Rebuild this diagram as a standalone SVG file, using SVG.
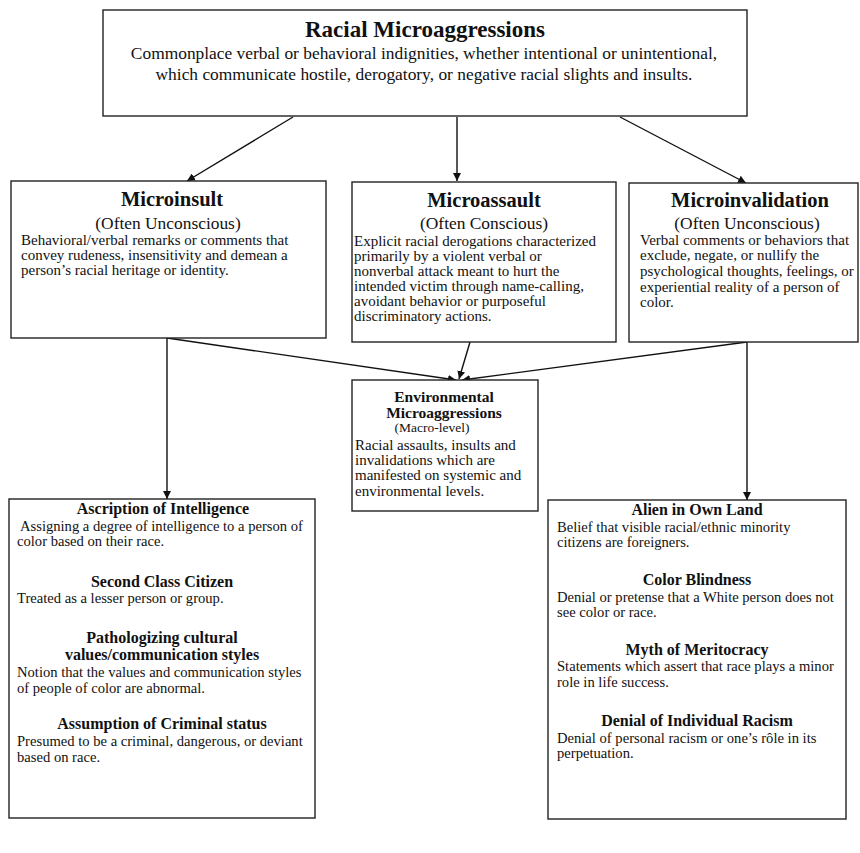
<svg xmlns="http://www.w3.org/2000/svg" width="860" height="853" viewBox="0 0 860 853">
<defs>
<marker id="ah" viewBox="0 0 10 10" refX="10" refY="5" markerWidth="8" markerHeight="8" markerUnits="userSpaceOnUse" orient="auto">
<path d="M0,0 L10,5 L0,10 z" fill="#111"/>
</marker>
</defs>
<style>
.box{fill:#fff;stroke:#222;stroke-width:1.4}
.t{font-family:"Liberation Serif","Times New Roman",serif;fill:#111}
.h1{font-size:23px;font-weight:bold;text-anchor:middle}
.h2{font-size:20.5px;font-weight:bold;text-anchor:middle}
.h3{font-size:16px;font-weight:bold;text-anchor:middle}
.h4{font-size:15.5px;font-weight:bold;text-anchor:middle}
.sub{font-size:17.4px;text-anchor:middle}
.b{font-size:15px}
.bs{font-size:14.6px}
.bt{font-size:17.4px;text-anchor:middle}
.c{stroke:#111;stroke-width:1.4;fill:none;marker-end:url(#ah)}
</style>
<rect width="860" height="853" fill="#fff"/>
<g id="connectors">
<line class="c" x1="293" y1="117" x2="187" y2="181"/>
<line class="c" x1="457" y1="117" x2="457" y2="181"/>
<line class="c" x1="620" y1="117" x2="746" y2="183"/>
<line class="c" x1="167" y1="338" x2="167" y2="499"/>
<line class="c" x1="167" y1="338" x2="456" y2="380"/>
<line class="c" x1="470" y1="342" x2="459" y2="379"/>
<line class="c" x1="747" y1="342" x2="462" y2="380"/>
<line class="c" x1="747" y1="342" x2="747" y2="500"/>
</g>
<g id="racial-microaggressions">
<rect class="box" x="103" y="10" width="644" height="106"/>
<text class="t h1" x="425" y="37">Racial Microaggressions</text>
<text class="t bt" x="424" y="59">Commonplace verbal or behavioral indignities, whether intentional or unintentional,</text>
<text class="t bt" x="424" y="80">which communicate hostile, derogatory, or negative racial slights and insults.</text>
</g>
<g id="microinsult">
<rect class="box" x="11" y="181" width="315" height="157"/>
<text class="t h2" x="172" y="206">Microinsult</text>
<text class="t sub" x="168" y="229">(Often Unconscious)</text>
<text class="t b" x="21" y="245">Behavioral/verbal remarks or comments that</text>
<text class="t b" x="21" y="260">convey rudeness, insensitivity and demean a</text>
<text class="t b" x="21" y="275">person’s racial heritage or identity.</text>
</g>
<g id="microassault">
<rect class="box" x="352" y="182" width="264" height="160"/>
<text class="t h2" x="484" y="207">Microassault</text>
<text class="t sub" x="484" y="229">(Often Conscious)</text>
<text class="t b" x="354" y="246">Explicit racial derogations characterized</text>
<text class="t b" x="354" y="261">primarily by a violent verbal or</text>
<text class="t b" x="354" y="276">nonverbal attack meant to hurt the</text>
<text class="t b" x="354" y="291">intended victim through name-calling,</text>
<text class="t b" x="354" y="306">avoidant behavior or purposeful</text>
<text class="t b" x="354" y="321">discriminatory actions.</text>
</g>
<g id="microinvalidation">
<rect class="box" x="629" y="183" width="229" height="159"/>
<text class="t h2" x="750" y="207">Microinvalidation</text>
<text class="t sub" x="747" y="229">(Often Unconscious)</text>
<text class="t b" x="640" y="245">Verbal comments or behaviors that</text>
<text class="t b" x="640" y="260">exclude, negate, or nullify the</text>
<text class="t b" x="640" y="276">psychological thoughts, feelings, or</text>
<text class="t b" x="640" y="292">experiential reality of a person of</text>
<text class="t b" x="640" y="307">color.</text>
</g>
<g id="environmental-microaggressions">
<rect class="box" x="352" y="380" width="186" height="131"/>
<text class="t h4" x="444" y="402">Environmental</text>
<text class="t h4" x="444" y="418">Microaggressions</text>
<text class="t" x="432" y="432" font-size="13.5" text-anchor="middle">(Macro-level)</text>
<text class="t b" x="355" y="450">Racial assaults, insults and</text>
<text class="t b" x="355" y="465">invalidations which are</text>
<text class="t b" x="355" y="480">manifested on systemic and</text>
<text class="t b" x="355" y="496">environmental levels.</text>
</g>
<g id="microinsult-themes">
<rect class="box" x="9" y="499" width="306" height="319"/>
<text class="t h3" x="163" y="514">Ascription of Intelligence</text>
<text class="t bs" x="20" y="531">Assigning a degree of intelligence to a person of</text>
<text class="t bs" x="17" y="546">color based on their race.</text>
<text class="t h3" x="162" y="587">Second Class Citizen</text>
<text class="t bs" x="17" y="603">Treated as a lesser person or group.</text>
<text class="t h3" x="162" y="643">Pathologizing cultural</text>
<text class="t h3" x="162" y="660">values/communication styles</text>
<text class="t bs" x="17" y="677">Notion that the values and communication styles</text>
<text class="t bs" x="17" y="693">of people of color are abnormal.</text>
<text class="t h3" x="162" y="729">Assumption of Criminal status</text>
<text class="t bs" x="17" y="746">Presumed to be a criminal, dangerous, or deviant</text>
<text class="t bs" x="17" y="762">based on race.</text>
</g>
<g id="microinvalidation-themes">
<rect class="box" x="548" y="500" width="298" height="319"/>
<text class="t h3" x="697" y="515">Alien in Own Land</text>
<text class="t bs" x="557" y="532">Belief that visible racial/ethnic minority</text>
<text class="t bs" x="557" y="547">citizens are foreigners.</text>
<text class="t h3" x="697" y="585">Color Blindness</text>
<text class="t bs" x="557" y="602">Denial or pretense that a White person does not</text>
<text class="t bs" x="557" y="617">see color or race.</text>
<text class="t h3" x="697" y="655">Myth of Meritocracy</text>
<text class="t bs" x="557" y="671">Statements which assert that race plays a minor</text>
<text class="t bs" x="557" y="687">role in life success.</text>
<text class="t h3" x="697" y="726">Denial of Individual Racism</text>
<text class="t bs" x="557" y="743">Denial of personal racism or one’s rôle in its</text>
<text class="t bs" x="557" y="758">perpetuation.</text>
</g>
</svg>
